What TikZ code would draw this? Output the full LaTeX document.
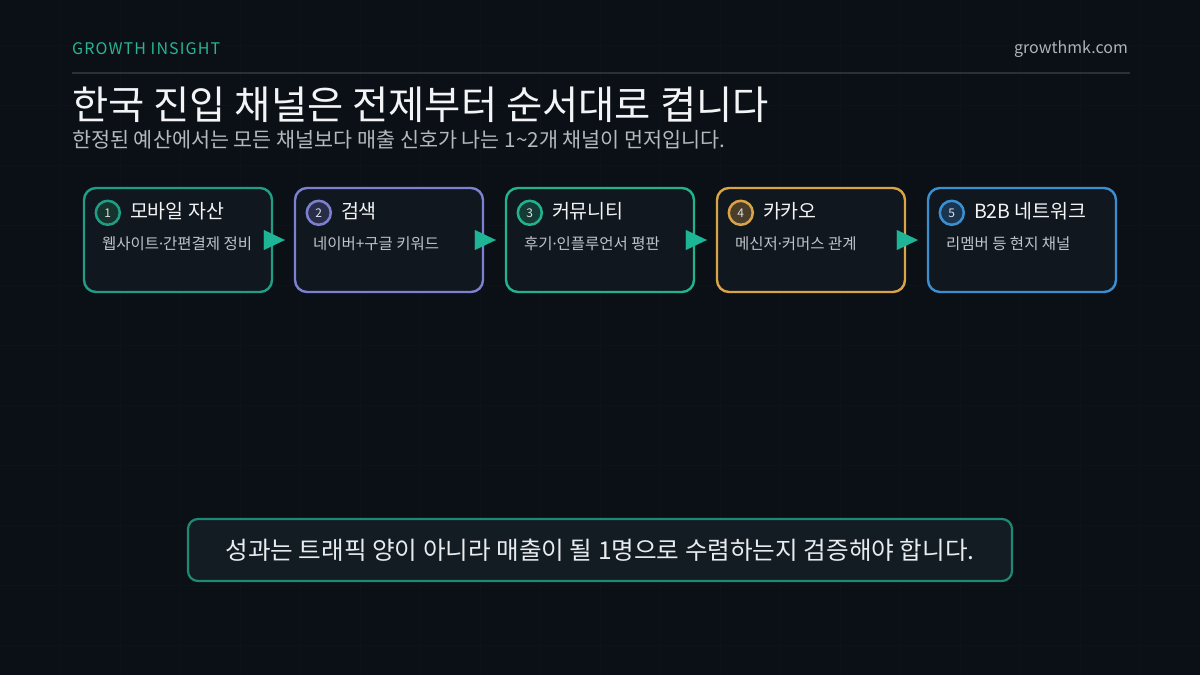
\documentclass[tikz,border=0pt]{standalone}
\usepackage{fontspec}
\setmainfont{Noto Sans CJK KR}
\newfontfamily\latinfont{Noto Sans}
\newcommand\md{{\latinfont ·}}
\usetikzlibrary{arrows.meta,calc}
\definecolor{bg}{HTML}{0B0F16}
\definecolor{gridc}{HTML}{0E1219}
\definecolor{rulec}{HTML}{2B3038}
\definecolor{tealtxt}{HTML}{2BB394}
\definecolor{urlc}{HTML}{AEB3BA}
\definecolor{titlec}{HTML}{F3F4F6}
\definecolor{subc}{HTML}{B4B9C0}
\definecolor{boxfill}{HTML}{11171E}
\definecolor{smallc}{HTML}{BFC4CA}
\definecolor{numc}{HTML}{DDE1E5}
\definecolor{cA}{HTML}{1F9E85}\definecolor{cAd}{HTML}{16332E}
\definecolor{cB}{HTML}{7C80D0}\definecolor{cBd}{HTML}{2A2D4A}
\definecolor{cC}{HTML}{20B38C}\definecolor{cCd}{HTML}{163A35}
\definecolor{cD}{HTML}{D8A445}\definecolor{cDd}{HTML}{4A3E2A}
\definecolor{cE}{HTML}{3B8FD0}\definecolor{cEd}{HTML}{1A3550}
\definecolor{arrowc}{HTML}{1DB595}
\definecolor{notec}{HTML}{1E8A74}
\definecolor{notefill}{HTML}{131C23}
\definecolor{notetxt}{HTML}{E9ECEF}
\newcommand\chbox[7]{%
  \node[stepbox, draw=#3] (#1) at (#2,240) {};
  \node[numdot, draw=#3, fill=#4] (#1n) at ($(#1.north west)+(25,26)$) {#5};
  \node[headtxt] (#1h) at ($(#1.north west)+(47,24)$) {#6};
  \node[subtxt] (#1s) at ($(#1.north west)+(19,57)$) {#7};
}
\begin{document}
\begin{tikzpicture}[x=1pt,y=-1pt,
  stepbox/.style={rounded corners=12pt, line width=2.4pt, fill=boxfill,
    minimum width=188pt, minimum height=104pt, inner sep=0pt},
  numdot/.style={circle, line width=2.5pt, minimum size=24pt, inner sep=0pt,
    text=numc, font=\fontsize{12}{12}\selectfont},
  headtxt/.style={anchor=west, inner sep=0pt, text=titlec, font=\fontsize{19.5}{21}\selectfont},
  subtxt/.style={anchor=west, inner sep=0pt, text=smallc, font=\fontsize{15.5}{17}\selectfont},
  flow/.style={draw=arrowc, fill=arrowc, line width=0.01pt, -{Triangle[length=21pt,width=20pt]}}
]
\useasboundingbox (0,0) rectangle (1200,675);
\fill[bg] (0,0) rectangle (1200,675);
\foreach \x in {60,120,...,1140} \draw[gridc, line width=1pt] (\x,0) -- (\x,675);
\foreach \y in {45,105,...,645} \draw[gridc, line width=1pt] (0,\y) -- (1200,\y);

\node[anchor=west, inner sep=0pt, text=tealtxt, font=\fontsize{16}{18}\selectfont\addfontfeature{LetterSpace=7}] (brand) at (72,49) {GROWTH INSIGHT};
\node[anchor=east, inner sep=0pt, text=urlc, font=\fontsize{16}{18}\selectfont] (url) at (1128,49) {growthmk.com};
\coordinate (rl) at (72,73);
\coordinate (rr) at (1130,73);
\draw[rulec, line width=2pt] (rl) -- (rr);

\node[anchor=west, inner sep=0pt, text=titlec, font=\fontsize{39.4}{42}\selectfont] (title) at (72,105) {한국 진입 채널은 전제부터 순서대로 켭니다};
\node[anchor=west, inner sep=0pt, text=subc, font=\fontsize{20.7}{22}\selectfont] (subtitle) at (72,140) {한정된 예산에서는 모든 채널보다 매출 신호가 나는 1\textasciitilde2개 채널이 먼저입니다.};

\chbox{b1}{178}{cA}{cAd}{1}{모바일 자산}{웹사이트\md 간편결제 정비}
\chbox{b2}{389}{cB}{cBd}{2}{검색}{네이버+구글 키워드}
\chbox{b3}{600}{cC}{cCd}{3}{커뮤니티}{후기\md 인플루언서 평판}
\chbox{b4}{811}{cD}{cDd}{4}{카카오}{메신저\md 커머스 관계}
\chbox{b5}{1022}{cE}{cEd}{5}{B2B 네트워크}{리멤버 등 현지 채널}

\draw[flow] ($(b1.east)+(-9,0)$) -- ($(b2.west)+(-9,0)$);
\draw[flow] ($(b2.east)+(-9,0)$) -- ($(b3.west)+(-9,0)$);
\draw[flow] ($(b3.east)+(-9,0)$) -- ($(b4.west)+(-9,0)$);
\draw[flow] ($(b4.east)+(-9,0)$) -- ($(b5.west)+(-9,0)$);

\node[draw=notec, fill=notefill, rounded corners=10pt, line width=2.2pt,
  minimum width=824pt, minimum height=62pt, inner sep=0pt,
  text=notetxt, font=\fontsize{24.6}{26}\selectfont] (note) at (600,550)
  {성과는 트래픽 양이 아니라 매출이 될 1명으로 수렴하는지 검증해야 합니다.};
\end{tikzpicture}
\end{document}
